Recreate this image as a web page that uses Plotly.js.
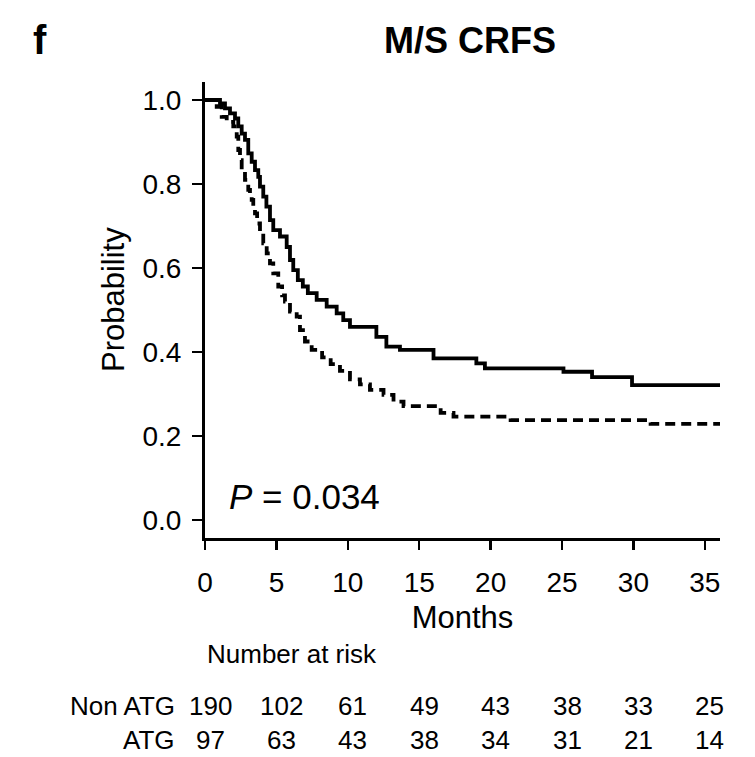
<!DOCTYPE html>
<html>
<head>
<meta charset="utf-8">
<script src="https://cdn.plot.ly/plotly-3.0.1.min.js"></script>
<style>
  html, body { margin: 0; padding: 0; background: #fff; }
  #chart { width: 755px; height: 757px; }
</style>
</head>
<body>
<div id="chart"></div>
<script>
// Solid curve (higher CRFS)
const solidTime = [0, 1.05, 1.4, 1.75, 2.1, 2.33, 2.57, 2.8, 3.03, 3.27, 3.5, 3.73, 3.85, 4.08, 4.3, 4.55, 4.78, 5.25, 5.72, 5.95, 6.18, 6.5, 6.85, 7.2, 7.82, 8.52, 9.22, 9.68, 10.15, 12.0, 12.7, 13.65, 16.0, 19.0, 19.6, 25.1, 27.1, 29.9, 36.1];
const solidProb = [1.0, 0.992, 0.98, 0.968, 0.956, 0.937, 0.92, 0.905, 0.873, 0.853, 0.833, 0.817, 0.794, 0.77, 0.746, 0.714, 0.69, 0.675, 0.65, 0.619, 0.595, 0.571, 0.556, 0.54, 0.524, 0.508, 0.492, 0.476, 0.46, 0.436, 0.413, 0.405, 0.385, 0.373, 0.361, 0.353, 0.340, 0.321, 0.321];

// Dashed curve (lower CRFS)
const dashTime = [0, 0.82, 1.17, 1.52, 1.98, 2.22, 2.33, 2.45, 2.57, 2.8, 3.03, 3.15, 3.27, 3.38, 3.5, 3.65, 3.85, 4.08, 4.32, 4.55, 4.78, 5.13, 5.4, 5.6, 5.95, 6.42, 6.65, 7.0, 7.47, 8.2, 8.8, 9.45, 10.15, 10.85, 11.55, 12.5, 13.2, 13.9, 16.5, 17.4, 21.4, 31.2, 36.1];
const dashProb = [1.0, 0.984, 0.96, 0.948, 0.937, 0.913, 0.881, 0.857, 0.833, 0.81, 0.786, 0.778, 0.762, 0.746, 0.73, 0.706, 0.683, 0.659, 0.635, 0.611, 0.587, 0.556, 0.535, 0.52, 0.496, 0.484, 0.452, 0.425, 0.405, 0.387, 0.371, 0.355, 0.335, 0.323, 0.31, 0.298, 0.282, 0.271, 0.255, 0.246, 0.238, 0.229, 0.229];

const xTicks = [0, 5, 10, 15, 20, 25, 30, 35];
const yTicks = [0.0, 0.2, 0.4, 0.6, 0.8, 1.0];
const yTickLabels = ["0.0", "0.2", "0.4", "0.6", "0.8", "1.0"];

const riskTimes = [0, 5, 10, 15, 20, 25, 30, 35];
const riskGroups = ["Non ATG", "ATG"];
const riskNonATG = [190, 102, 61, 49, 43, 38, 33, 25];
const riskATG = [97, 63, 43, 38, 34, 31, 21, 14];

const FONT = "Liberation Sans, Arial, Helvetica, sans-serif";

const traces = [
  {
    x: solidTime, y: solidProb, type: "scatter", mode: "lines",
    line: { shape: "hv", color: "#000", width: 3.8 },
    hoverinfo: "skip", showlegend: false
  },
  {
    x: dashTime, y: dashProb, type: "scatter", mode: "lines",
    line: { shape: "hv", color: "#000", width: 3.8, dash: "10px,6px" },
    hoverinfo: "skip", showlegend: false
  }
];

// paper y for pixel row (plot area from 82 to 538), paper x for pixel column (205 to 720)
function py(pix) { return (538 - pix) / 456; }
function px(pix) { return (pix - 205) / 515; }

const annotations = [
  { text: "<b>f</b>", xref: "paper", yref: "paper", x: px(40), y: py(40),
    xanchor: "center", yanchor: "middle", showarrow: false, font: { family: FONT, size: 40, color: "#000" } },
  { text: "Probability", xref: "paper", yref: "paper", x: px(113), y: py(300), textangle: -90,
    xanchor: "center", yanchor: "middle", showarrow: false, font: { family: FONT, size: 31, color: "#000" } },
  { text: "<i>P</i> = 0.034", xref: "x", yref: "y", x: 1.55, y: 0.055,
    xanchor: "left", yanchor: "middle", showarrow: false, font: { family: FONT, size: 35, color: "#000" } },
  { text: "Number at risk", xref: "paper", yref: "paper", x: px(205), y: py(654),
    xanchor: "left", yanchor: "middle", showarrow: false, font: { family: FONT, size: 26, color: "#000" } }
];

const riskRows = [riskNonATG, riskATG];
const rowPix = [706, 740];
riskRows.forEach((row, r) => {
  annotations.push({
    text: riskGroups[r], xref: "paper", yref: "paper", x: px(177), y: py(rowPix[r]),
    xanchor: "right", yanchor: "middle", showarrow: false, font: { family: FONT, size: 26, color: "#000" }
  });
  row.forEach((v, i) => {
    annotations.push({
      text: String(v), xref: "x", yref: "paper", x: riskTimes[i], y: py(rowPix[r]), xshift: 5,
      xanchor: "center", yanchor: "middle", showarrow: false, font: { family: FONT, size: 26, color: "#000" }
    });
  });
});

const layout = {
  width: 755, height: 757,
  margin: { l: 205, r: 35, t: 82, b: 219, pad: 0 },
  paper_bgcolor: "#fff", plot_bgcolor: "#fff",
  showlegend: false,
  title: {
    text: "<b>M/S CRFS</b>",
    font: { family: FONT, size: 36, color: "#000" },
    x: 470 / 755, xanchor: "center", xref: "container",
    y: 1 - 40 / 757, yanchor: "middle", yref: "container"
  },
  xaxis: {
    range: [0, 36.06], tickvals: xTicks, ticktext: xTicks.map(String),
    showgrid: false, zeroline: false, showline: true, linecolor: "#000", linewidth: 3,
    ticks: "outside", ticklen: 9, tickwidth: 2.5, tickcolor: "#000",
    tickfont: { family: FONT, size: 28, color: "#000" },
    ticklabelstandoff: 8,
    title: { text: "Months", font: { family: FONT, size: 31, color: "#000" }, standoff: 10 },
    fixedrange: true
  },
  yaxis: {
    range: [-0.0429, 1.0429], tickvals: yTicks, ticktext: yTickLabels,
    showgrid: false, zeroline: false, showline: true, linecolor: "#000", linewidth: 3,
    ticks: "outside", ticklen: 10, tickwidth: 2.5, tickcolor: "#000",
    tickfont: { family: FONT, size: 28, color: "#000" },
    ticklabelstandoff: 5,
    fixedrange: true
  },
  annotations: annotations
};

Plotly.newPlot("chart", traces, layout, { staticPlot: true, displayModeBar: false });
</script>
</body>
</html>
